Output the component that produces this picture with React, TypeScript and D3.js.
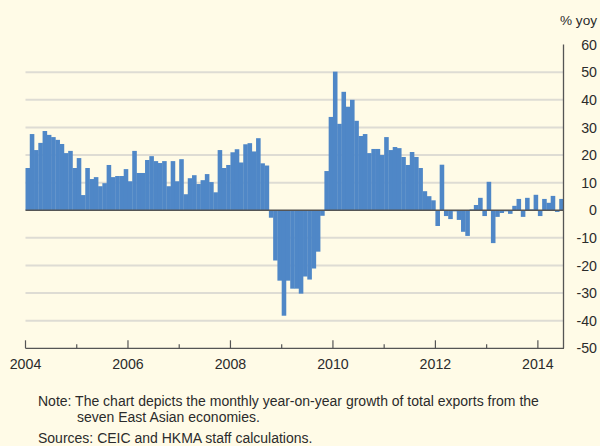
import React from "react";
import * as d3 from "d3";

const startYear = 2004;
const values: number[] = [
  // 2004
  15.3, 27.6, 21.8, 24.4, 28.7, 27.3, 26.5, 25.5, 24.0, 20.7, 21.5, 15.3,
  // 2005
  18.9, 5.5, 15.3, 11.3, 12.0, 8.7, 9.8, 16.4, 12.0, 12.4, 12.4, 14.9,
  // 2006
  10.5, 21.5, 13.5, 13.5, 18.2, 19.6, 17.8, 17.1, 17.8, 8.7, 17.8, 10.5,
  // 2007
  18.5, 5.8, 11.6, 12.7, 9.5, 10.9, 13.1, 10.2, 6.5, 21.8, 15.3, 16.4,
  // 2008
  21.0, 22.1, 17.3, 23.9, 24.3, 21.3, 26.1, 17.0, 16.2, -2.7, -18.2, -25.5,
  // 2009
  -38.2, -25.5, -28.4, -28.4, -30.2, -24.0, -25.1, -21.1, -15.0, -2.0, 14.2, 33.8,
  // 2010
  50.2, 31.3, 42.9, 37.5, 40.0, 32.4, 26.9, 27.6, 20.7, 22.2, 22.2, 20.0,
  // 2011
  26.5, 21.8, 22.9, 22.5, 19.3, 16.4, 21.1, 19.3, 15.3, 6.9, 5.1, 3.6,
  // 2012
  -5.7, 16.5, -2.1, -3.2, -0.4, -3.5, -7.8, -9.3, 0.3, 1.9, 4.5, -2.1,
  // 2013
  10.3, -11.9, -2.4, -1.0, -0.4, -1.3, 1.6, 4.1, -2.4, 4.5, 0.3, 5.6,
  // 2014
  -2.1, 4.1, 2.7, 5.2, -0.6, 4.1,
];
const yearTicks: number[] = [2004, 2005, 2006, 2007, 2008, 2009, 2010, 2011, 2012, 2013, 2014];
const yearLabels: number[] = [2004, 2006, 2008, 2010, 2012, 2014];
const yTicks: number[] = [60, 50, 40, 30, 20, 10, 0, -10, -20, -30, -40, -50];
const gridValues: number[] = [50, 40, 30, 20, 10, -10, -20, -30, -40];

const W = 600;
const H = 446;
const BG = "#FFFBE7";
const BAR = "#4F87C7";
const AXIS = "#555555";
const TEXT = "#2b2b2b";
const FONT = "'Liberation Sans', Arial, Helvetica, sans-serif";

export default function App() {
  const nMonths = 126;
  const x = d3.scaleLinear().domain([0, nMonths]).range([25.5, 563.5]);
  const y = d3.scaleLinear().domain([-50, 60]).range([348.3, 44.6]);
  const bw = x(1) - x(0);

  return (
    <svg
      width={W}
      height={H}
      style={{ position: "absolute", left: 0, top: 0, background: BG, display: "block" }}
    >
      <rect x={0} y={0} width={W} height={H} fill={BG} />
      {gridValues.map((g) => (
        <line
          key={"g" + g}
          x1={x(0)}
          x2={x(nMonths)}
          y1={y(g)}
          y2={y(g)}
          stroke="#DEDCD4"
          strokeWidth={2}
        />
      ))}
      {values.map((v, i) => (
        <rect
          key={"b" + i}
          x={x(i)}
          width={bw + 0.3}
          y={y(Math.max(0, v))}
          height={Math.abs(y(v) - y(0))}
          fill={BAR}
        />
      ))}
      <line x1={x(0)} x2={x(nMonths)} y1={y(0)} y2={y(0)} stroke={AXIS} strokeWidth={1.5} />
      {/* bottom axis */}
      <line x1={x(0)} x2={x(nMonths) + 0.5} y1={y(-50)} y2={y(-50)} stroke={AXIS} strokeWidth={1.3} />
      {/* right axis */}
      <line x1={x(nMonths)} x2={x(nMonths)} y1={y(60)} y2={y(-50)} stroke={AXIS} strokeWidth={1.3} />
      {yearTicks.map((yr) => {
        const xi = x((yr - startYear) * 12);
        const major = (yr - startYear) % 2 === 0;
        return (
          <line
            key={"t" + yr}
            x1={xi}
            x2={xi}
            y1={y(-50)}
            y2={y(-50) - (major ? 8 : 4)}
            stroke={AXIS}
            strokeWidth={1.2}
          />
        );
      })}
      {yearLabels.map((yr) => (
        <text
          key={"xl" + yr}
          x={x((yr - startYear) * 12)}
          y={369}
          textAnchor="middle"
          fontFamily={FONT}
          fontSize={14.2}
          fill={TEXT}
        >
          {yr}
        </text>
      ))}
      {yTicks.map((t) => (
        <text
          key={"yl" + t}
          x={597}
          y={y(t)}
          dy="0.36em"
          textAnchor="end"
          fontFamily={FONT}
          fontSize={14.2}
          fill={TEXT}
        >
          {t}
        </text>
      ))}
      <text x={597} y={25} textAnchor="end" fontFamily={FONT} fontSize={13.6} fill={TEXT}>
        % yoy
      </text>
      <text x={38} y={406} fontFamily={FONT} fontSize={14} fill={TEXT}>
        Note: The chart depicts the monthly year-on-year growth of total exports from the
      </text>
      <text x={77} y={422} fontFamily={FONT} fontSize={14} fill={TEXT}>
        seven East Asian economies.
      </text>
      <text x={38} y={443} fontFamily={FONT} fontSize={14} fill={TEXT}>
        Sources: CEIC and HKMA staff calculations.
      </text>
    </svg>
  );
}
